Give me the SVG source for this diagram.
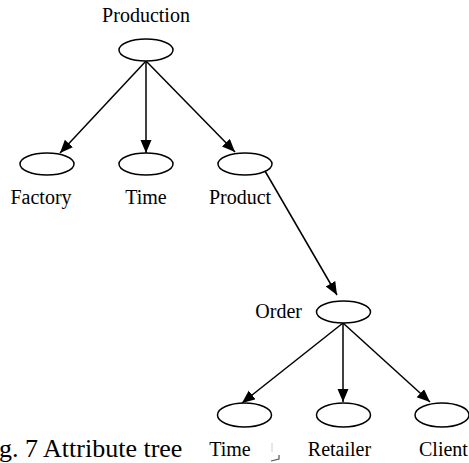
<svg xmlns="http://www.w3.org/2000/svg" width="469" height="463" viewBox="0 0 469 463">
  <style>
    .node ellipse { fill: #fff; stroke: #000; stroke-width: 1.5; }
    .label { font-family: "Liberation Serif", "Times New Roman", serif; font-size: 20px; fill: #000; }
    .caption { font-family: "Liberation Serif", "Times New Roman", serif; font-size: 26px; fill: #000; }
    .edge { stroke: #000; stroke-width: 1.5; fill: none; marker-end: url(#arrow); }
  </style>
  <defs>
    <marker id="arrow" markerUnits="userSpaceOnUse" markerWidth="14" markerHeight="12" refX="13" refY="5.5" orient="auto">
      <path d="M0,0 L13,5.5 L0,11 z" fill="#000"/>
    </marker>
  </defs>
  <rect width="469" height="463" fill="#fff"/>

  <g id="connectors">
    <line class="edge" x1="146" y1="61" x2="60" y2="153"/>
    <line class="edge" x1="146" y1="61" x2="146" y2="153"/>
    <line class="edge" x1="146" y1="61" x2="235" y2="152"/>
    <line class="edge" x1="265" y1="171" x2="337" y2="295"/>
    <line class="edge" x1="343" y1="323" x2="242" y2="403"/>
    <line class="edge" x1="343" y1="323" x2="343" y2="402"/>
    <line class="edge" x1="343" y1="323" x2="430" y2="402"/>
  </g>

  <g id="production" class="node">
    <ellipse cx="146" cy="50" rx="27" ry="11"/>
    <text class="label" x="146" y="22" text-anchor="middle">Production</text>
  </g>
  <g id="factory" class="node">
    <ellipse cx="47" cy="164" rx="27" ry="11"/>
    <text class="label" x="41" y="204" text-anchor="middle">Factory</text>
  </g>
  <g id="time1" class="node">
    <ellipse cx="146" cy="164" rx="27" ry="11"/>
    <text class="label" x="146" y="204" text-anchor="middle">Time</text>
  </g>
  <g id="product" class="node">
    <ellipse cx="245" cy="164" rx="27" ry="11"/>
    <text class="label" x="240" y="204" text-anchor="middle">Product</text>
  </g>
  <g id="order" class="node">
    <ellipse cx="343.5" cy="312" rx="27" ry="11"/>
    <text class="label" x="302" y="318" text-anchor="end">Order</text>
  </g>
  <g id="time2" class="node">
    <ellipse cx="244.5" cy="415" rx="27" ry="12"/>
    <text class="label" x="230" y="456" text-anchor="middle">Time</text>
  </g>
  <g id="retailer" class="node">
    <ellipse cx="343.5" cy="415" rx="27" ry="12"/>
    <text class="label" x="339.5" y="456" text-anchor="middle">Retailer</text>
  </g>
  <g id="client" class="node">
    <ellipse cx="442" cy="415" rx="27" ry="12"/>
    <text class="label" x="419" y="456">Client</text>
  </g>

  <text class="caption" x="-1" y="457">g. 7 Attribute tree</text>
  <path d="M272,443 V452" stroke="#ccc" stroke-width="1" fill="none"/>
  <path d="M271,461 L279,459 V455" stroke="#555" stroke-width="1.2" fill="none"/>
</svg>
